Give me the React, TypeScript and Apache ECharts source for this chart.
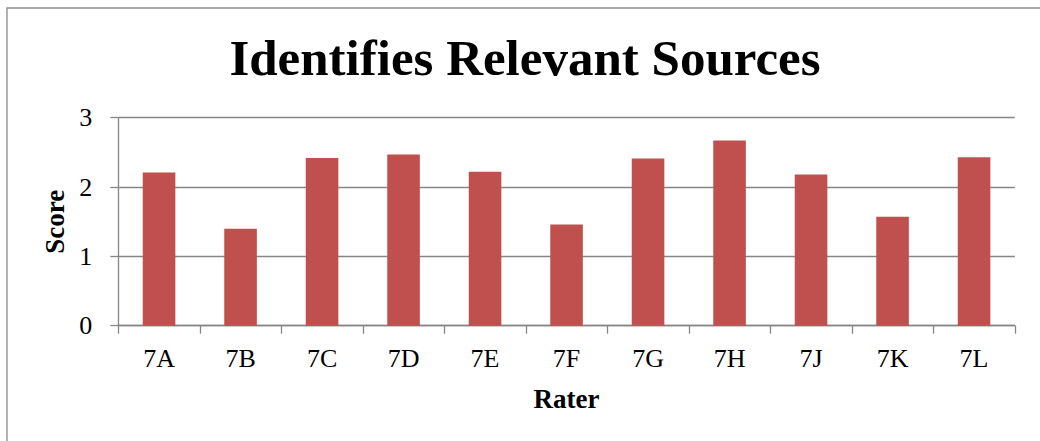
import React, { useEffect, useRef } from "react";
import * as echarts from "echarts";

const categories = ["7A", "7B", "7C", "7D", "7E", "7F", "7G", "7H", "7J", "7K", "7L"];
const scores = [2.21, 1.4, 2.42, 2.47, 2.22, 1.46, 2.41, 2.67, 2.18, 1.57, 2.43];
const yTicks = [0, 1, 2, 3];

const FONT = "'Liberation Serif', 'Times New Roman', serif";

export default function App() {
  const ref = useRef<HTMLDivElement>(null);
  useEffect(() => {
    document.body.style.margin = "0";
    const chart = echarts.init(ref.current!, null, { renderer: "svg" });
    chart.setOption({
      animation: false,
      backgroundColor: "#ffffff",
      graphic: [
        {
          type: "rect",
          shape: { x: 7, y: 8, width: 1050, height: 450 },
          style: { fill: "none", stroke: "#8a8a8a", lineWidth: 1.3 },
          silent: true,
          z: 0,
        },
        {
          type: "text",
          x: 525,
          y: 58,
          style: {
            text: "Identifies Relevant Sources",
            font: `bold 51px ${FONT}`,
            fill: "#000",
            align: "center",
            verticalAlign: "middle",
          },
        },
      ],
      grid: { left: 118.3, right: 25.2, top: 117.7, bottom: 115.3 },
      xAxis: {
        type: "category",
        data: categories,
        name: "Rater",
        nameLocation: "middle",
        nameGap: 60,
        nameTextStyle: { fontFamily: FONT, fontSize: 27, fontWeight: "bold", color: "#000" },
        axisLine: { lineStyle: { color: "#868686", width: 1.3 } },
        axisTick: { show: true, length: 8, lineStyle: { color: "#868686", width: 1.3 } },
        axisLabel: { fontFamily: FONT, fontSize: 26, color: "#000", margin: 20 },
      },
      yAxis: {
        type: "value",
        min: 0,
        max: 3,
        interval: 1,
        name: "Score",
        nameLocation: "middle",
        nameGap: 45,
        nameTextStyle: { fontFamily: FONT, fontSize: 27, fontWeight: "bold", color: "#000" },
        axisLine: { show: true, lineStyle: { color: "#868686", width: 1.3 } },
        axisTick: { show: true, length: 8, lineStyle: { color: "#868686", width: 1.3 } },
        splitLine: { show: true, lineStyle: { color: "#868686", width: 1.3 } },
        axisLabel: {
          fontFamily: FONT,
          fontSize: 26,
          color: "#000",
          margin: 26,
          formatter: (v: number) => (yTicks.includes(v) ? String(v) : ""),
        },
      },
      series: [
        {
          type: "bar",
          data: scores,
          barWidth: "40%",
          itemStyle: { color: "#C0504D" },
        },
      ],
    });
    return () => chart.dispose();
  }, []);
  return <div ref={ref} style={{ width: 1040, height: 441 }} />;
}
